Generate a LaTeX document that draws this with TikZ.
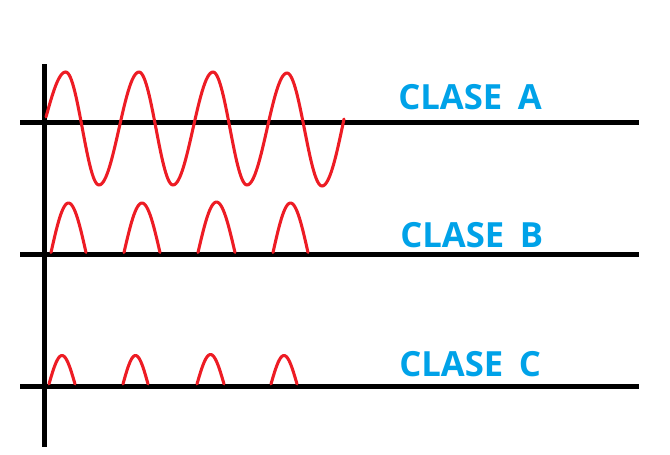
\documentclass[tikz,border=0pt]{standalone}
\usepackage{fontspec}
\setmainfont{Open Sans}
\definecolor{wavered}{HTML}{ED1C24}
\definecolor{labelblue}{HTML}{00A2E8}
\begin{document}
\begin{tikzpicture}[x=0.75pt,y=-0.75pt,
  axis/.style={line width=3.6pt},
  wave/.style={wavered, line width=2.3pt, line join=round, line cap=round},
  classlabel/.style={labelblue, font=\fontsize{26}{26}\selectfont\bfseries, anchor=base west, inner sep=0pt}]
\useasboundingbox (0,0) rectangle (670,454);
% axes
\coordinate (axtop) at (44.5,64);
\coordinate (axbot) at (44.5,447);
\coordinate (aL) at (20,122.5); \coordinate (aR) at (639,122.5);
\coordinate (bL) at (20,254.5); \coordinate (bR) at (639,254.5);
\coordinate (cL) at (20,386.5); \coordinate (cR) at (639,386.5);
\draw[axis] (axtop) -- (axbot);
\draw[axis] (aL) -- (aR);
\draw[axis] (bL) -- (bR);
\draw[axis] (cL) -- (cR);
% class A: full sine wave
\draw[wave] plot[domain=0:1,samples=20,variable=\t] ({46+\t*(65.7-46)},{117+(72-117)*sin(90*\t)});
\foreach \xa/\ya/\xb/\yb in {65.7/72/99/185, 99/185/139/72, 139/72/173/185, 173/185/213/72, 213/72/247/185, 247/185/287/73, 287/73/322/186}
  \draw[wave] plot[domain=0:1,samples=30,variable=\t] ({\xa+\t*(\xb-\xa)},{\ya+(\yb-\ya)*(1-cos(180*\t))/2});
\draw[wave] plot[domain=0:1,samples=20,variable=\t] ({322+\t*(344-322)},{186+(119-186)*(1-cos(90*\t))});
% class B: half-wave arches
\foreach \xa/\xb/\yt in {51/86/203, 124/160/203, 198/235/202, 273/308/203}
  \draw[wave] plot[domain=0:1,samples=30,variable=\t] ({\xa+\t*(\xb-\xa)},{252.5-(252.5-\yt)*sin(180*\t)});
% class C: short arches
\foreach \xa/\xb/\yt in {49/75/355.5, 123/148/355.5, 197/224/354.5, 271/297/355.5}
  \draw[wave] plot[domain=0:1,samples=30,variable=\t] ({\xa+\t*(\xb-\xa)},{384-(384-\yt)*sin(180*\t)});
% labels
\node[classlabel] (la) at (398,109) {CLASE\hspace{0.45em}A};
\node[classlabel] (lb) at (400,247) {CLASE\hspace{0.45em}B};
\node[classlabel] (lc) at (399,376) {CLASE\hspace{0.45em}C};
\end{tikzpicture}
\end{document}
